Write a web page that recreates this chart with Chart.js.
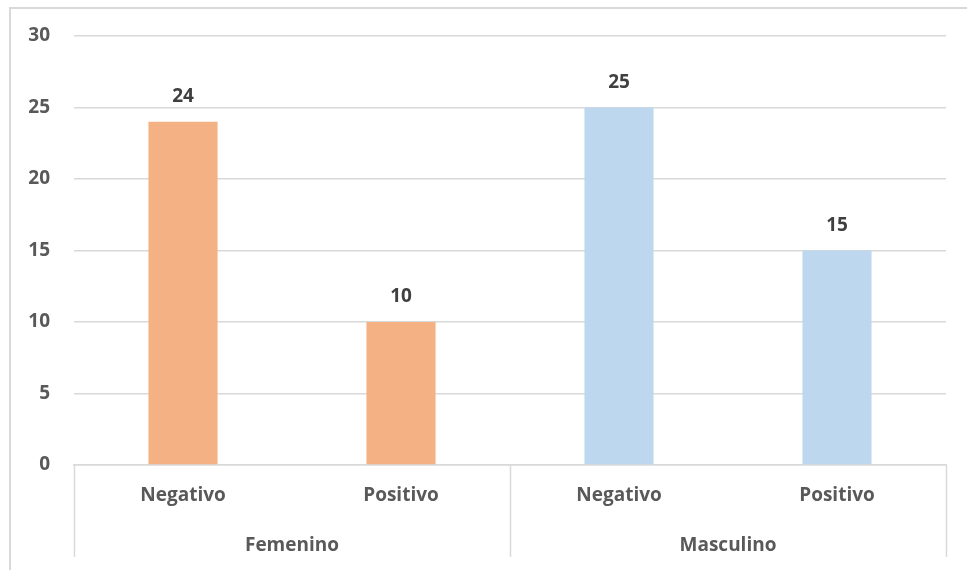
<!DOCTYPE html>
<html>
<head>
<meta charset="utf-8">
<script src="https://cdn.jsdelivr.net/npm/chart.js@4/dist/chart.umd.min.js"></script>
<style>
  html, body { margin: 0; padding: 0; background: #fff; }
  #wrap { position: relative; width: 967px; height: 570px; }
  #frame { position: absolute; left: 9px; top: 7px; width: 970px; height: 580px;
           border-left: 2px solid #d9d9d9; border-top: 2px solid #d9d9d9; box-sizing: border-box; }
</style>
</head>
<body>
<div id="wrap">
  <div id="frame"></div>
  <canvas id="chart" width="967" height="570" style="position:absolute;left:0;top:0;"></canvas>
</div>
<script>
// chart data
const categories = ['Negativo', 'Positivo', 'Negativo', 'Positivo'];
const groups = ['Femenino', 'Masculino'];
const groupSizes = [2, 2];
const values = [24, 10, 25, 15];
const barColors = ['#F4B183', '#F4B183', '#BDD7EE', '#BDD7EE'];
const yTicks = [0, 5, 10, 15, 20, 25, 30];

const FONT = 'Open Sans';
const TEXT = '#595959';
const GRID = '#d9d9d9';
const FSIZE = 19;

// value labels above the bars
const valueLabels = {
    id: 'valueLabels',
    afterDatasetsDraw(chart) {
        const ctx = chart.ctx;
        const meta = chart.getDatasetMeta(0);
        ctx.save();
        ctx.font = 'bold ' + FSIZE + 'px "' + FONT + '"';
        ctx.fillStyle = '#404040';
        ctx.textAlign = 'center';
        ctx.textBaseline = 'middle';
        meta.data.forEach((bar, i) => {
            ctx.fillText(values[i], bar.x, bar.y - 25);
        });
        ctx.restore();
    }
};

// second row of the x axis with separators
const groupAxis = {
    id: 'groupAxis',
    afterDraw(chart) {
        const ctx = chart.ctx;
        const area = chart.chartArea;
        const step = (area.right - area.left) / categories.length;
        const bottom = area.bottom + 92;
        ctx.save();
        ctx.strokeStyle = GRID;
        ctx.lineWidth = 1.5;
        let idx = 0;
        const edges = [area.left];
        groupSizes.forEach(n => { idx += n; edges.push(area.left + idx * step); });
        edges.forEach(ex => {
            ctx.beginPath();
            ctx.moveTo(Math.round(ex) + 0.5, area.bottom);
            ctx.lineTo(Math.round(ex) + 0.5, bottom);
            ctx.stroke();
        });
        ctx.font = 'bold ' + FSIZE + 'px "' + FONT + '"';
        ctx.fillStyle = TEXT;
        ctx.textAlign = 'center';
        ctx.textBaseline = 'middle';
        groups.forEach((g, i) => {
            ctx.fillText(g, (edges[i] + edges[i + 1]) / 2, area.bottom + 81);
        });
        ctx.restore();
    }
};

new Chart(document.getElementById('chart'), {
    type: 'bar',
    data: {
        labels: categories,
        datasets: [{
            data: values,
            backgroundColor: barColors,
            borderWidth: 0,
            barPercentage: 0.317,
            categoryPercentage: 1
        }]
    },
    options: {
        responsive: false,
        animation: false,
        layout: { padding: { left: 0, right: 21, top: 36, bottom: 0 } },
        plugins: {
            legend: { display: false },
            tooltip: { enabled: false }
        },
        scales: {
            x: {
                grid: { display: false, drawTicks: false },
                border: { color: GRID, width: 1.5 },
                ticks: {
                    color: TEXT,
                    padding: 19,
                    font: { family: FONT, size: FSIZE, weight: 'bold' }
                },
                afterFit(scale) { scale.height = 105; }
            },
            y: {
                min: 0,
                max: 30,
                afterBuildTicks(scale) { scale.ticks = yTicks.map(v => ({ value: v })); },
                grid: { color: GRID, lineWidth: 1.5, drawTicks: false },
                border: { display: false },
                ticks: {
                    color: TEXT,
                    padding: 24,
                    font: { family: FONT, size: FSIZE, weight: 'bold' }
                },
                afterFit(scale) { scale.width = 74; }
            }
        }
    },
    plugins: [valueLabels, groupAxis]
});
</script>
</body>
</html>
